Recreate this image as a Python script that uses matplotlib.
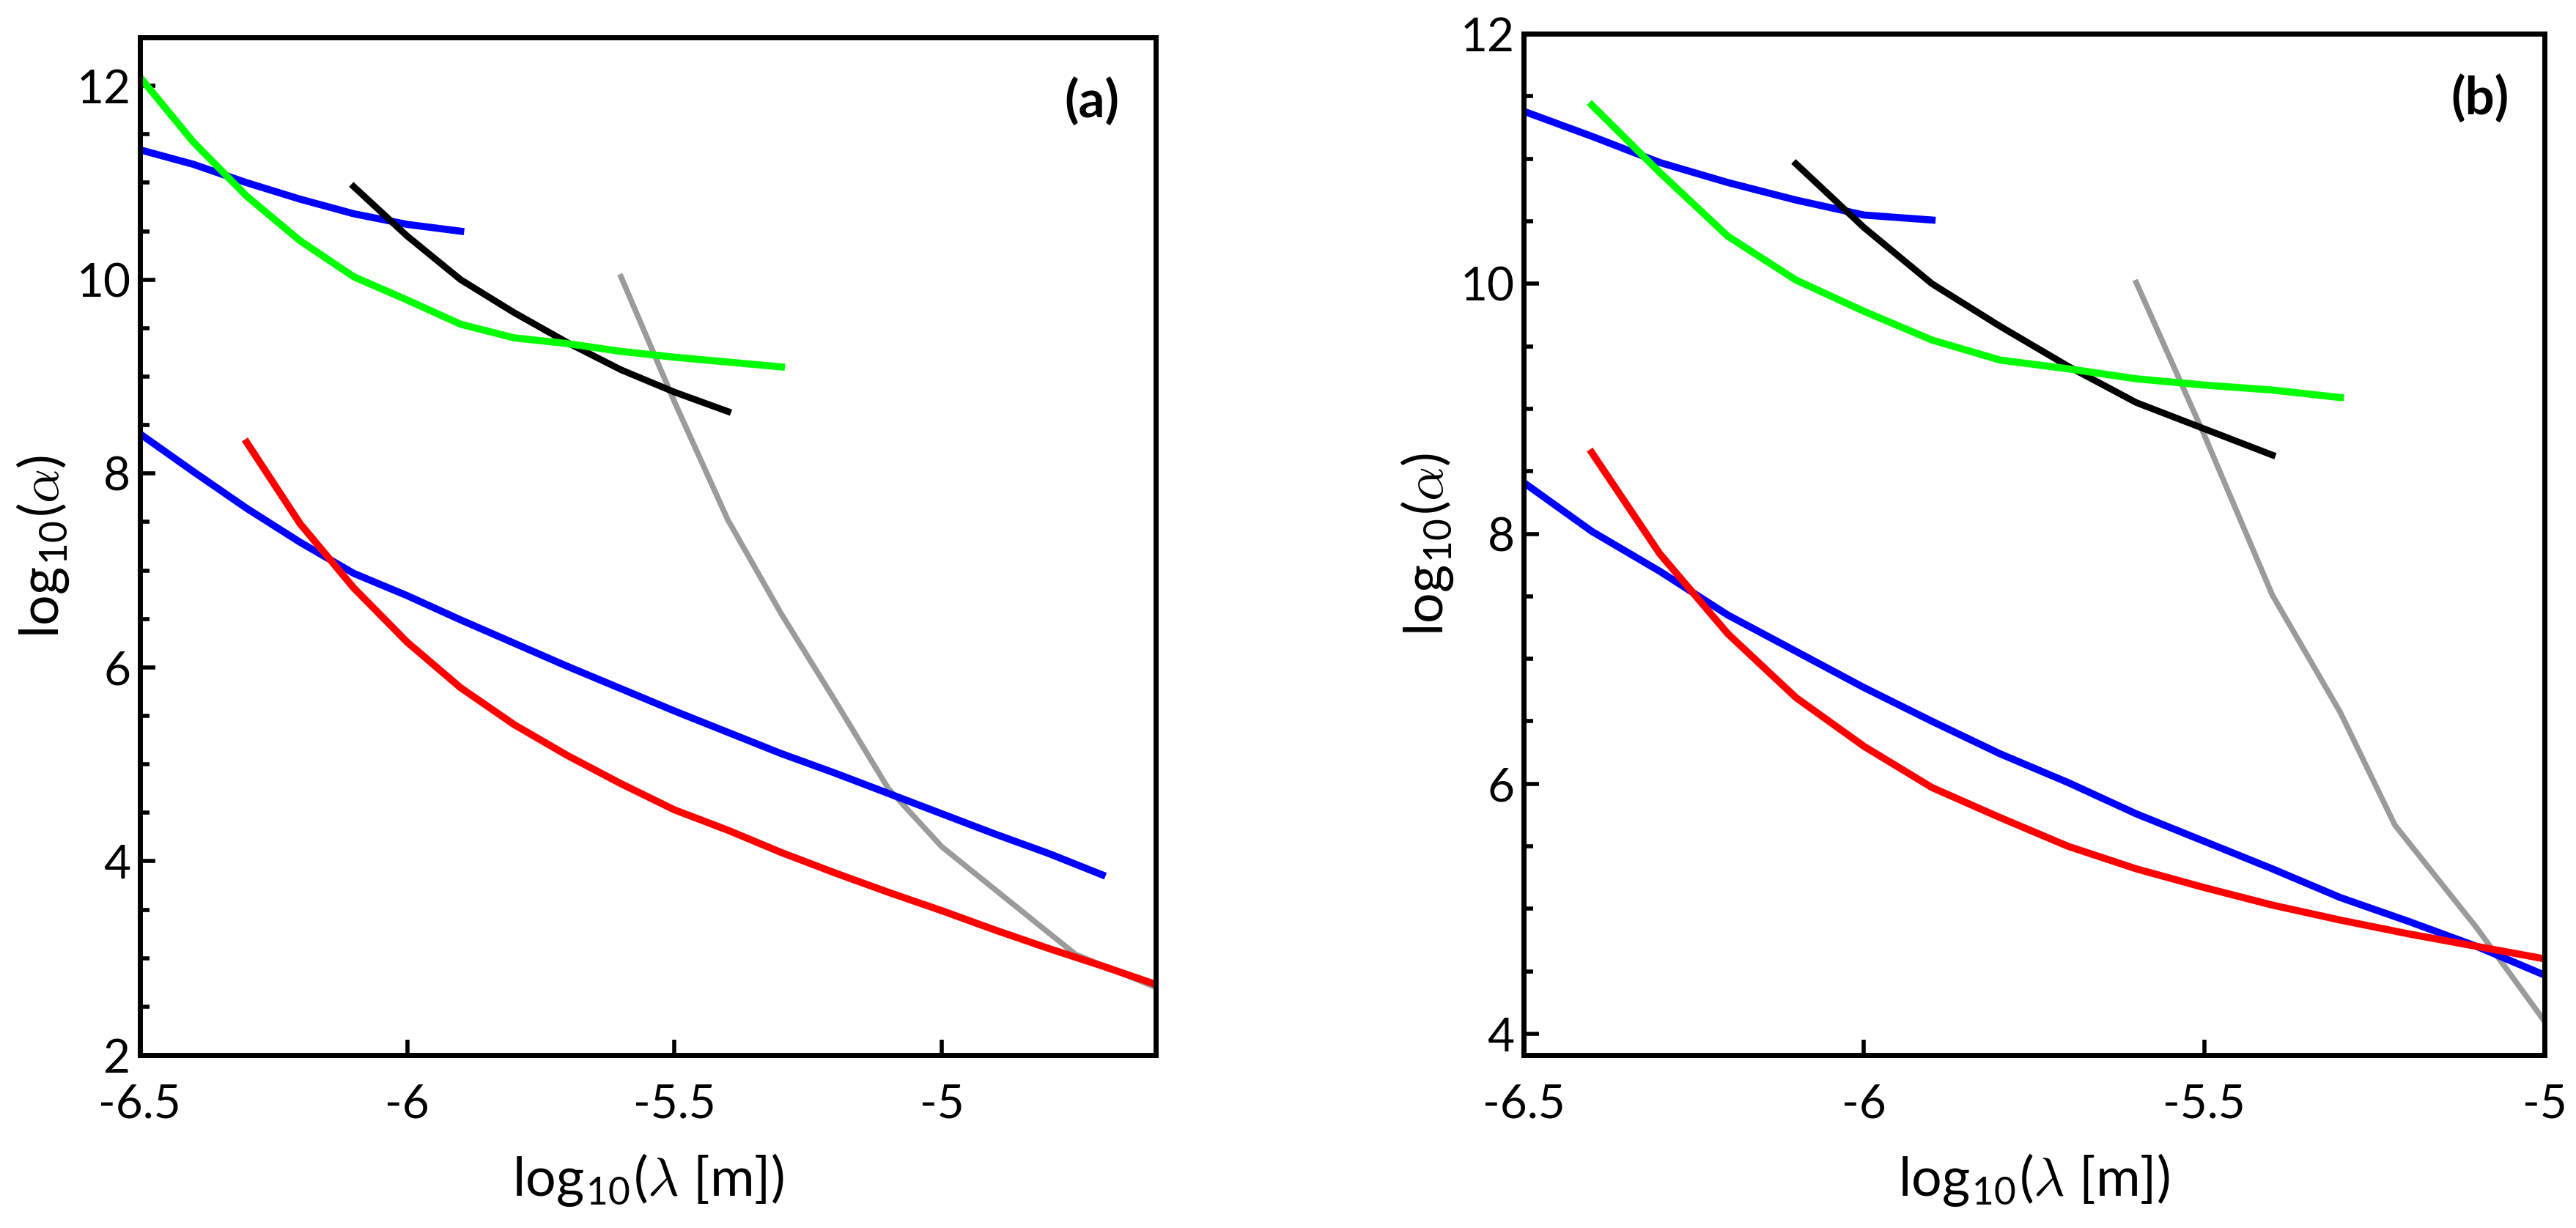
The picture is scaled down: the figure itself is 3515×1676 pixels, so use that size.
import matplotlib
matplotlib.use("Agg")
import matplotlib.pyplot as plt
from matplotlib.ticker import MultipleLocator

plt.rcParams['font.family'] = ['Lato', 'DejaVu Sans']
plt.rcParams['mathtext.fontset'] = 'custom'
plt.rcParams['mathtext.rm'] = 'Lato'
plt.rcParams['mathtext.it'] = 'cmmi10'
plt.rcParams['mathtext.fallback'] = 'cm'
plt.rcParams['axes.unicode_minus'] = False

# ---- panel (a) data ----
a_blue_hi_x = [-6.5, -6.4, -6.3, -6.2, -6.1, -6.0, -5.9]
a_blue_hi_y = [11.34, 11.19, 11.00, 10.83, 10.68, 10.57, 10.50]

a_green_x = [-6.5, -6.4, -6.3, -6.2, -6.1, -6.0, -5.9, -5.8, -5.7, -5.6, -5.5, -5.4, -5.3]
a_green_y = [12.09, 11.42, 10.86, 10.40, 10.03, 9.79, 9.54, 9.40, 9.34, 9.26, 9.20, 9.15, 9.10]

a_black_x = [-6.1, -6.0, -5.9, -5.8, -5.7, -5.6, -5.5, -5.4]
a_black_y = [10.96, 10.45, 10.00, 9.66, 9.35, 9.07, 8.84, 8.64]

a_gray_x = [-5.6, -5.5, -5.4, -5.3, -5.2, -5.1, -5.0, -4.75, -4.6]
a_gray_y = [10.03, 8.74, 7.52, 6.55, 5.66, 4.75, 4.15, 3.04, 2.70]

a_blue_lo_x = [-6.5, -6.4, -6.3, -6.2, -6.1, -6.0, -5.9, -5.8, -5.7, -5.6, -5.5,
               -5.4, -5.3, -5.2, -5.1, -5.0, -4.9, -4.8, -4.7]
a_blue_lo_y = [8.41, 8.02, 7.64, 7.29, 6.97, 6.74, 6.49, 6.25, 6.01, 5.78, 5.55,
               5.33, 5.11, 4.91, 4.70, 4.49, 4.28, 4.08, 3.86]

a_red_x = [-6.3, -6.2, -6.1, -6.0, -5.9, -5.8, -5.7, -5.6, -5.5, -5.4, -5.3,
           -5.2, -5.1, -5.0, -4.9, -4.8, -4.7, -4.6]
a_red_y = [8.32, 7.48, 6.82, 6.26, 5.79, 5.41, 5.09, 4.80, 4.53, 4.32, 4.09,
           3.88, 3.68, 3.49, 3.29, 3.10, 2.92, 2.73]

# ---- panel (b) data ----
b_blue_hi_x = [-6.5, -6.4, -6.3, -6.2, -6.1, -6.0, -5.9]
b_blue_hi_y = [11.38, 11.18, 10.97, 10.81, 10.67, 10.55, 10.51]

b_green_x = [-6.4, -6.3, -6.2, -6.1, -6.0, -5.9, -5.8, -5.7, -5.6, -5.5, -5.4, -5.3]
b_green_y = [11.43, 10.89, 10.38, 10.03, 9.78, 9.55, 9.39, 9.32, 9.24, 9.19, 9.15, 9.09]

b_black_x = [-6.1, -6.0, -5.9, -5.8, -5.7, -5.6, -5.5, -5.4]
b_black_y = [10.96, 10.45, 10.00, 9.66, 9.34, 9.05, 8.84, 8.63]

b_gray_x = [-5.6, -5.5, -5.4, -5.3, -5.22, -5.1, -5.0]
b_gray_y = [10.01, 8.79, 7.51, 6.57, 5.67, 4.85, 4.10]

b_blue_lo_x = [-6.5, -6.4, -6.3, -6.2, -6.1, -6.0, -5.9, -5.8, -5.7, -5.6, -5.5,
               -5.4, -5.3, -5.2, -5.1, -5.0]
b_blue_lo_y = [8.41, 8.02, 7.70, 7.35, 7.06, 6.77, 6.50, 6.24, 6.01, 5.76, 5.54,
               5.32, 5.09, 4.90, 4.70, 4.47]

b_red_x = [-6.4, -6.3, -6.2, -6.1, -6.0, -5.9, -5.8, -5.7, -5.6, -5.5, -5.4,
           -5.3, -5.2, -5.1, -5.0]
b_red_y = [8.65, 7.84, 7.20, 6.69, 6.30, 5.97, 5.73, 5.50, 5.32, 5.17, 5.03,
           4.91, 4.80, 4.70, 4.60]

a_xticks = [-6.5, -6.0, -5.5, -5.0]
a_xticklabels = ['-6.5', '-6', '-5.5', '-5']
b_xticks = [-6.5, -6.0, -5.5, -5.0]
b_xticklabels = ['-6.5', '-6', '-5.5', '-5']
a_yticks = [2, 4, 6, 8, 10, 12]
b_yticks = [4, 6, 8, 10, 12]

BLUE = '#0000ff'
GREEN = '#00ff00'
RED = '#ff0000'
GRAY = '#9b9b9b'


def style_axes(ax, xticks, xlabels, yticks, xlim, ylim, tag):
    ax.set_xlim(*xlim)
    ax.set_ylim(*ylim)
    ax.set_xticks(xticks)
    ax.set_xticklabels(xlabels)
    ax.set_yticks(yticks)
    ax.set_yticklabels([str(v) for v in yticks])
    ax.yaxis.set_minor_locator(MultipleLocator(0.5))
    ax.tick_params(which='major', direction='in', length=15, width=4,
                   labelsize=46, top=False, right=False)
    ax.tick_params(axis='y', which='major', pad=9)
    ax.tick_params(axis='x', which='major', pad=28)
    ax.tick_params(which='minor', direction='in', length=9, width=4,
                   top=False, right=False)
    for s in ax.spines.values():
        s.set_linewidth(5)
    ax.set_xlabel('log$_{10}$($\\lambda$ [m])', fontsize=53, labelpad=26)
    ax.set_ylabel('log$_{10}$($\\alpha$)', fontsize=53, labelpad=5)
    ax.text(0.937, 0.937, tag, transform=ax.transAxes, fontsize=51,
            fontweight='bold', ha='center', va='center')


fig = plt.figure(figsize=(35.15, 16.76), dpi=100)
ax_a = fig.add_axes([0.0543, 0.1408, 0.3943, 0.8288])
ax_b = fig.add_axes([0.5915, 0.1408, 0.3963, 0.8317])

ax_a.plot(a_gray_x, a_gray_y, color=GRAY, lw=5.5)
ax_a.plot(a_blue_hi_x, a_blue_hi_y, color=BLUE, lw=7)
ax_a.plot(a_blue_lo_x, a_blue_lo_y, color=BLUE, lw=7)
ax_a.plot(a_black_x, a_black_y, color='black', lw=6.5)
ax_a.plot(a_green_x, a_green_y, color=GREEN, lw=7)
ax_a.plot(a_red_x, a_red_y, color=RED, lw=7)
style_axes(ax_a, a_xticks, a_xticklabels, a_yticks, (-6.5, -4.6), (2, 12.5), '(a)')

ax_b.plot(b_gray_x, b_gray_y, color=GRAY, lw=5.5)
ax_b.plot(b_blue_hi_x, b_blue_hi_y, color=BLUE, lw=7)
ax_b.plot(b_blue_lo_x, b_blue_lo_y, color=BLUE, lw=7)
ax_b.plot(b_black_x, b_black_y, color='black', lw=6.5)
ax_b.plot(b_green_x, b_green_y, color=GREEN, lw=7)
ax_b.plot(b_red_x, b_red_y, color=RED, lw=7)
style_axes(ax_b, b_xticks, b_xticklabels, b_yticks, (-6.5, -5.0), (3.83, 12), '(b)')

fig.savefig('out.png', dpi=100)
